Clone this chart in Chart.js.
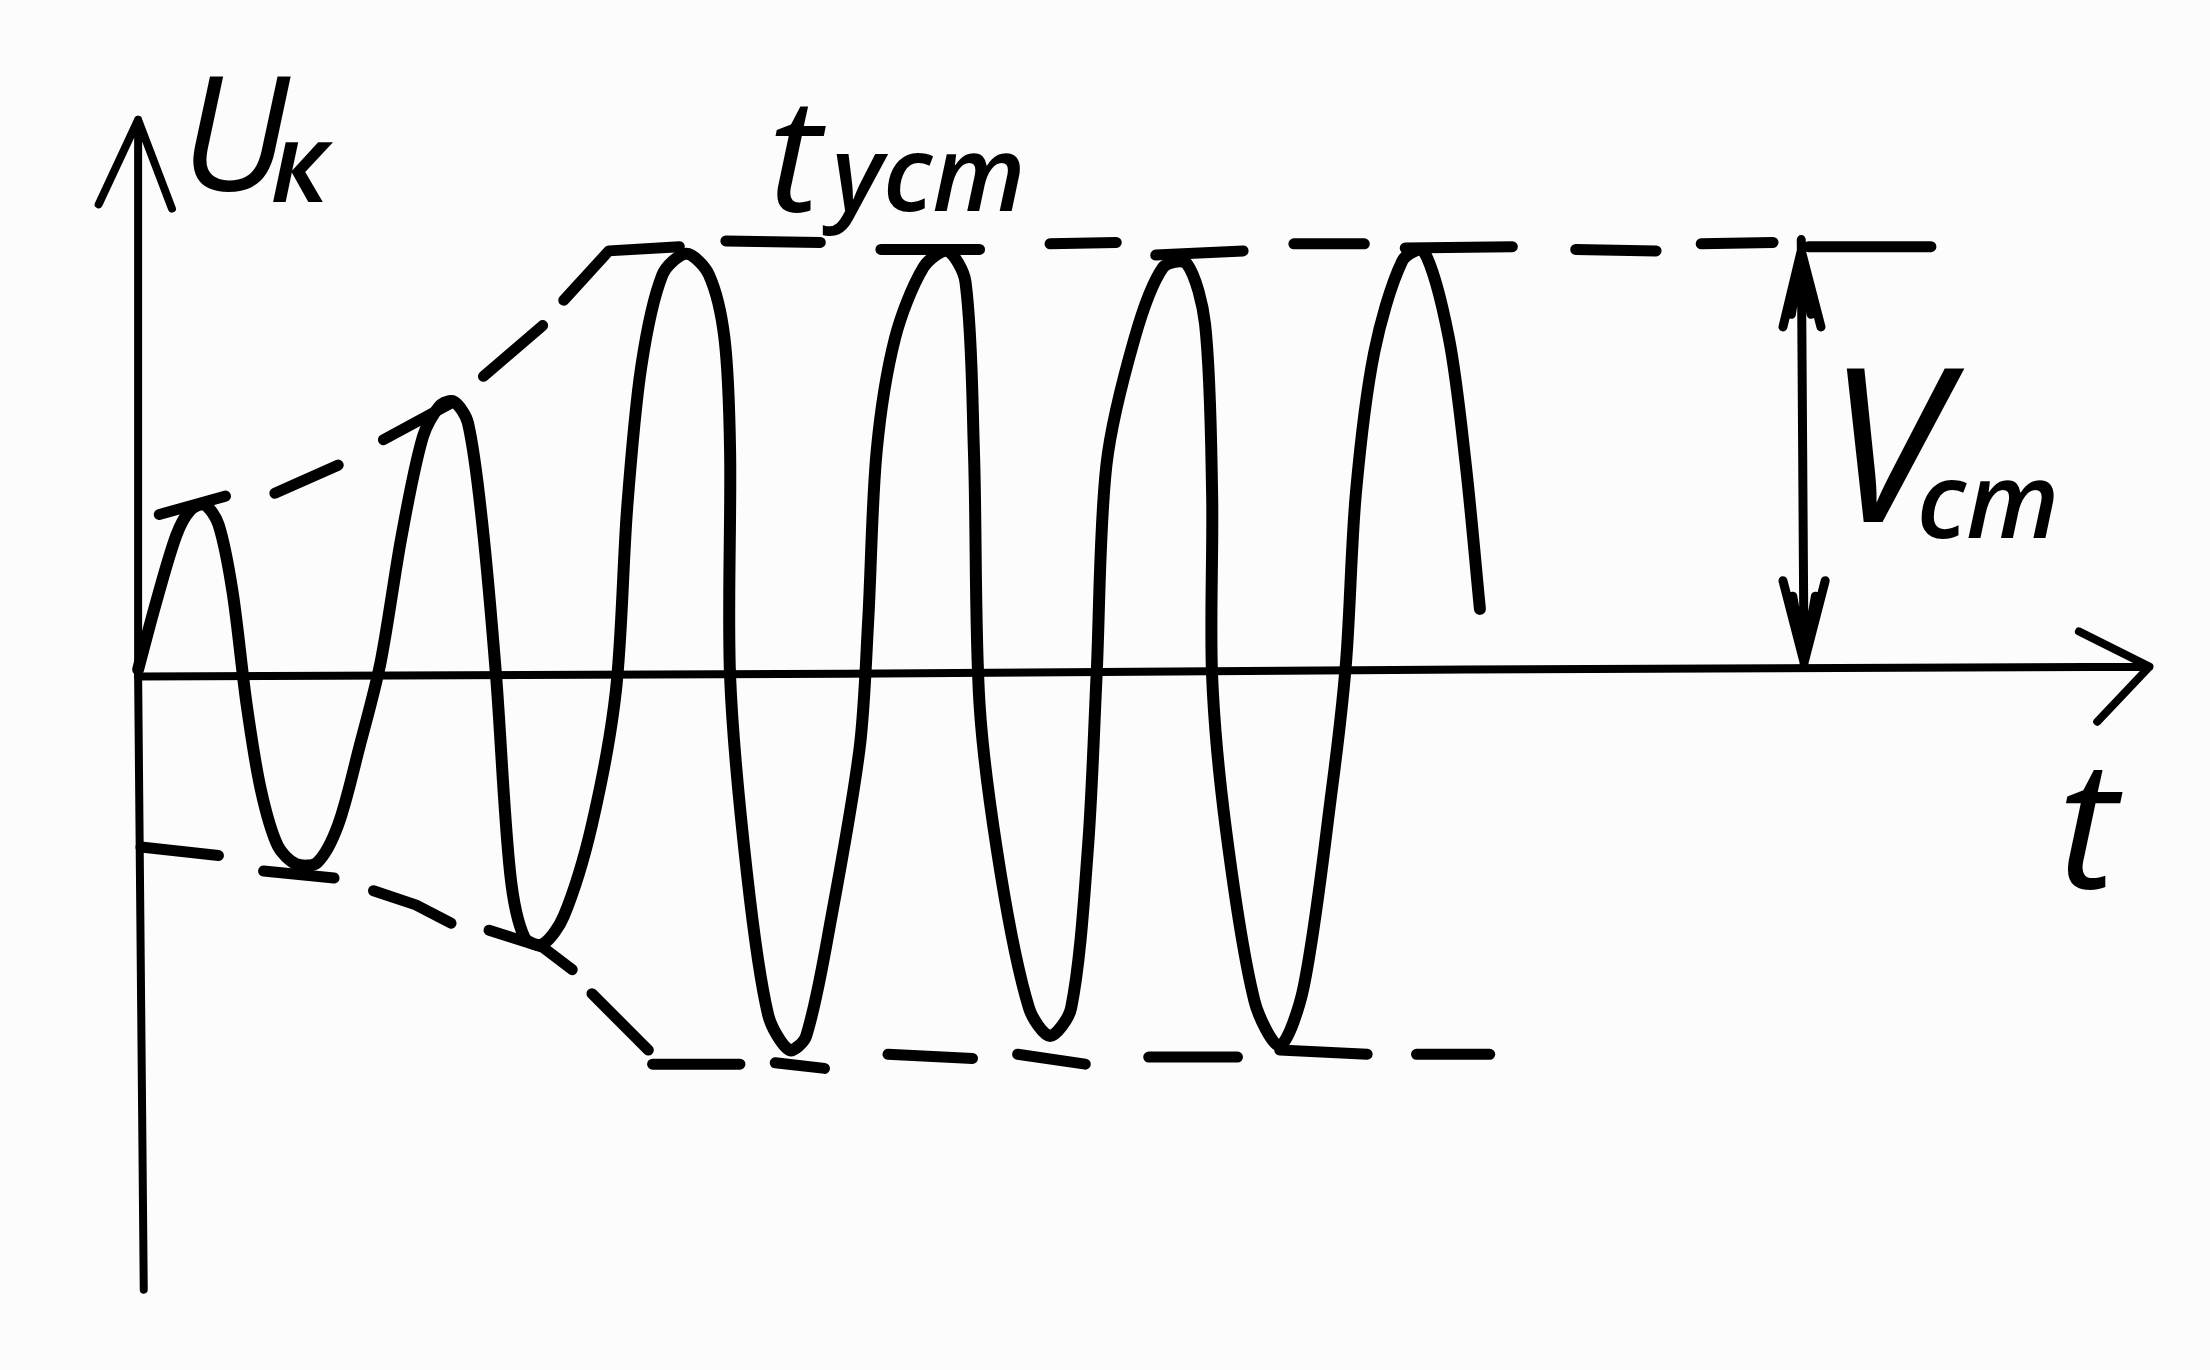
<!DOCTYPE html>
<html>
<head>
<meta charset="utf-8">
<title>Uк(t)</title>
<script src="https://cdn.jsdelivr.net/npm/chart.js@4"></script>
<style>
	html, body { margin: 0; padding: 0; background: #fcfcfc; }
	canvas { display: block; }
</style>
</head>
<body>
<canvas id="settling" width="2210" height="1370"></canvas>
<script>
// collector voltage (t and U in arbitrary units, null = pen lifted)
const curveT = [0, .12, .27, .37, .47, .57, .67, .77, .87, .99, 1.12, 1.27, 1.42, 1.57, 1.72, 1.87, 2.02, 2.14, 2.24, 2.34, 2.44, 2.54, 2.64, 2.74, 2.87, 3.02, 3.22, 3.39, 3.47, 3.57, 3.72, 3.89, 4.05, 4.16, 4.20, 4.20, 4.32, 4.47, 4.62, 4.74, 4.92, 5.12, 5.18, 5.24, 5.37, 5.57, 5.74, 5.87, 5.93, 5.97, 6.12, 6.32, 6.47, 6.62, 6.74, 6.80, 6.87, 7.07, 7.27, 7.44, 7.57, 7.62, 7.62, 7.72, 7.92, 8.10, 8.27, 8.47, 8.57, 8.64, 8.77, 8.97, 9.12, 9.30, 9.42, 9.52];
const curveU = [.03, .48, .98, 1.16, 1.20, 1.06, .58, -.22, -.82, -1.22, -1.35, -1.34, -1.07, -.52, .08, .98, 1.68, 1.90, 1.93, 1.78, 1.08, -.02, -1.42, -1.87, -1.92, -1.72, -1.07, -.12, 1.18, 2.18, 2.83, 2.98, 2.83, 2.38, 1.58, -.02, -1.42, -2.42, -2.67, -2.57, -1.72, -.52, .38, 1.58, 2.38, 2.88, 3.00, 2.78, 1.58, -.22, -1.42, -2.37, -2.57, -2.37, -1.22, -.02, 1.48, 2.38, 2.88, 2.91, 2.48, 1.28, -.02, -1.12, -2.32, -2.64, -2.22, -.82, .08, 1.28, 2.28, 2.93, 3.00, 2.38, 1.48, .46];

// dashed envelope
const upperT = [.15, .62, null, .97, 1.42, null, 1.74, 2.24, null, 2.45, 2.87, null, 3.02, 3.34, 3.84, null, 4.17, 4.84, null, 5.27, 5.97, null, 6.47, 6.94, null, 7.22, 7.84, null, 8.20, 8.70, null, 8.99, 9.75, null, 10.20, 10.77, null, 11.09, 11.60, null, 11.85, 12.72];
const upperU = [1.13, 1.26, null, 1.28, 1.48, null, 1.66, 1.93, null, 2.11, 2.47, null, 2.65, 3.00, 3.03, null, 3.07, 3.06, null, 3.01, 3.01, null, 3.05, 3.06, null, 2.97, 3.00, null, 3.05, 3.05, null, 3.02, 3.03, null, 3.01, 3.00, null, 3.05, 3.06, null, 3.03, 3.03];
const lowerT = [.02, .57, null, .89, 1.39, null, 1.67, 1.97, 2.22, null, 2.49, 2.87, 3.08, null, 3.22, 3.42, 3.62, null, 3.65, 4.27, null, 4.52, 4.87, null, 5.32, 5.92, null, 6.24, 6.72, null, 7.17, 7.80, null, 8.10, 8.72, null, 9.07, 9.59];
const lowerU = [-1.23, -1.29, null, -1.40, -1.45, null, -1.54, -1.64, -1.77, null, -1.82, -1.94, -2.10, null, -2.27, -2.47, -2.67, null, -2.77, -2.77, null, -2.76, -2.80, null, -2.70, -2.73, null, -2.70, -2.77, null, -2.72, -2.72, null, -2.67, -2.70, null, -2.70, -2.70];

// axes and the Vст arrow, hand drawn so they are series too
const axisUT = [0, 0, .04, null, -.28, 0, .24];
const axisUU = [3.93, -.02, -4.37, null, 3.33, 3.93, 3.30];
const axisTT = [0, 5.02, 9.42, 14.27, null, 13.77, 14.27, 13.90];
const axisTU = [-.02, 0, .03, .05, null, .30, .05, -.34];
const arrowT = [11.80, 11.82, null, 11.67, 11.80, 11.94, null, 11.73, 11.80, 11.87, null, 11.67, 11.82, 11.97, null, 11.74, 11.82, 11.90];
const arrowU = [3.08, .05, null, 2.46, 3.00, 2.46, null, 2.55, 3.00, 2.55, null, .66, .08, .66, null, .55, .08, .55];

const labelText = ['U', 'к', 't', 'уст', 'V', 'ст', 't'];
const labelT = [.30, .94, 4.47, 4.92, 11.98, 12.62, 13.62];
const labelU = [3.43, 3.35, 3.28, 3.28, 1.08, .96, -1.52];
const labelSize = [160, 110, 160, 105, 215, 105, 180];
const labelWeight = [400, 600, 400, 600, 400, 600, 400];

const toPoints = (xs, ys) => xs.map((x, i) => ({x: x, y: ys[i]}));

const stroke = (label, xs, ys, width, tension) => ({
	label: label,
	data: toPoints(xs, ys),
	showLine: true,
	spanGaps: false,
	borderColor: '#000',
	borderWidth: width,
	borderCapStyle: 'round',
	borderJoinStyle: 'round',
	tension: tension || 0,
	pointRadius: 0
});

const handLabels = {
	id: 'handLabels',
	afterDatasetsDraw(chart) {
		const c = chart.ctx;
		c.save();
		c.fillStyle = '#000';
		c.textAlign = 'left';
		c.textBaseline = 'alphabetic';
		labelText.forEach((text, i) => {
			c.font = 'italic ' + labelWeight[i] + ' ' + labelSize[i] + 'px "Open Sans"';
			c.fillText(text, chart.scales.x.getPixelForValue(labelT[i]), chart.scales.y.getPixelForValue(labelU[i]));
		});
		c.restore();
	}
};

const settling = new Chart(document.getElementById('settling').getContext('2d'), {
	type: 'scatter',
	data: {
		datasets: [
			stroke('U axis', axisUT, axisUU, 8),
			stroke('t axis', axisTT, axisTU, 8),
			stroke('Vст', arrowT, arrowU, 9),
			stroke('upper envelope', upperT, upperU, 11),
			stroke('lower envelope', lowerT, lowerU, 11),
			stroke('Uк', curveT, curveU, 12, .3)
		]
	},
	options: {
		responsive: false,
		animation: false,
		layout: {padding: 0},
		plugins: {
			legend: {display: false},
			title: {display: false},
			tooltip: {enabled: false}
		},
		scales: {
			x: {type: 'linear', display: false, min: -.98, max: 14.70},
			y: {type: 'linear', display: false, min: -4.94, max: 4.78}
		}
	},
	plugins: [handLabels, {
		id: 'paper',
		beforeDraw(chart) {
			chart.ctx.fillStyle = '#fcfcfc';
			chart.ctx.fillRect(0, 0, chart.width, chart.height);
		}
	}]
});
</script>
</body>
</html>
